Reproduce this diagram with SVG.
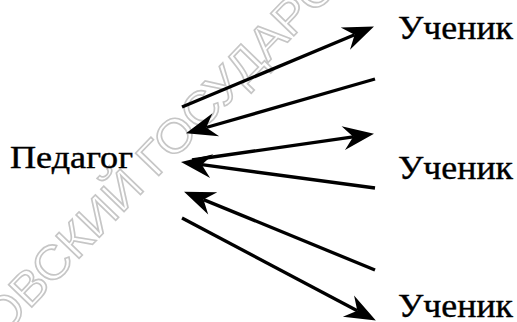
<svg xmlns="http://www.w3.org/2000/svg" width="517" height="322" viewBox="0 0 517 322">
<defs>
<style>
.lbl{font-family:"Liberation Serif","Times New Roman",serif;fill:#000;stroke:#000;stroke-width:0.4;}
.ln{stroke:#000;stroke-width:3.3;fill:none;marker-end:url(#ah);}
.wm{font-family:"Liberation Sans",Arial,sans-serif;fill:none;stroke:#c6c6c6;stroke-width:1.6;}
</style>
<marker id="ah" markerUnits="userSpaceOnUse" viewBox="-12 -14 36 28" refX="0" refY="0" markerWidth="36" markerHeight="28" orient="auto" overflow="visible">
<path d="M21,0 L-10,-12 L0,0 L-10,12 Z" fill="#000"/>
</marker>
</defs>
<rect width="517" height="322" fill="#fff"/>
<text class="wm" x="0" y="0" font-size="47" textLength="485" lengthAdjust="spacingAndGlyphs" transform="translate(2,338) rotate(-46)">ОВСКИЙ ГОСУДАРС</text>
<g id="connectors">
<line class="ln" x1="182" y1="107" x2="354.6" y2="34.7"/>
<line class="ln" x1="375" y1="79" x2="206.2" y2="127.5"/>
<line class="ln" x1="192" y1="160" x2="353.2" y2="136.8"/>
<line class="ln" x1="375" y1="188" x2="201.8" y2="164.7"/>
<line class="ln" x1="375" y1="270" x2="203.5" y2="199.6"/>
<line class="ln" x1="182" y1="218" x2="357.3" y2="310.7"/>
</g>
<g id="pedagog"><text class="lbl" x="10" y="168" font-size="32" textLength="123" lengthAdjust="spacingAndGlyphs">Педагог</text></g>
<g id="uchenik1"><text class="lbl" x="398" y="39" font-size="33" textLength="115" lengthAdjust="spacingAndGlyphs">Ученик</text></g>
<g id="uchenik2"><text class="lbl" x="398" y="179" font-size="33" textLength="115" lengthAdjust="spacingAndGlyphs">Ученик</text></g>
<g id="uchenik3"><text class="lbl" x="398" y="317" font-size="33" textLength="115" lengthAdjust="spacingAndGlyphs">Ученик</text></g>
</svg>
